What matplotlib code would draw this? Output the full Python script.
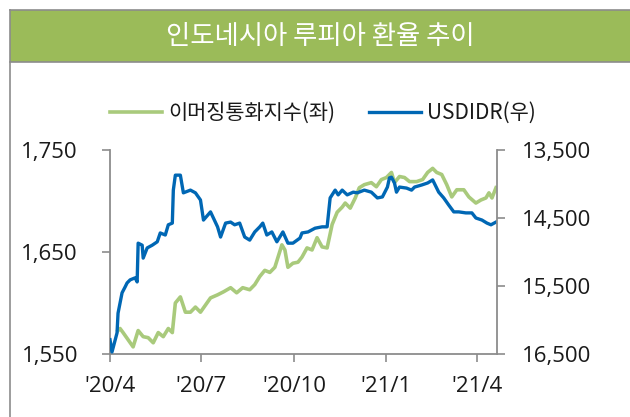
import matplotlib
matplotlib.use("Agg")
import matplotlib.pyplot as plt
from matplotlib.lines import Line2D
from matplotlib.patches import Rectangle
import pandas as pd

plt.rcParams['font.family'] = ['Noto Sans CJK KR', 'DejaVu Sans']

title = "인도네시아 루피아 환율 추이"
em_label = "이머징통화지수(좌)"
idr_label = "USDIDR(우)"

# 이머징통화지수 (left axis)
em_dates = ["2020-04-09", "2020-04-11", "2020-04-14", "2020-04-19", "2020-04-24", "2020-04-29",
            "2020-05-04", "2020-05-09", "2020-05-14", "2020-05-19", "2020-05-24", "2020-05-29",
            "2020-06-02", "2020-06-05", "2020-06-10", "2020-06-15", "2020-06-20", "2020-06-25",
            "2020-06-30", "2020-07-05", "2020-07-10", "2020-07-17", "2020-07-23", "2020-07-30",
            "2020-08-05", "2020-08-11", "2020-08-18", "2020-08-23", "2020-08-28", "2020-09-02",
            "2020-09-07", "2020-09-12", "2020-09-19", "2020-09-22", "2020-09-25", "2020-09-30",
            "2020-10-05", "2020-10-09", "2020-10-14", "2020-10-19", "2020-10-24", "2020-10-29",
            "2020-11-03", "2020-11-08", "2020-11-13", "2020-11-18", "2020-11-21", "2020-11-26",
            "2020-12-01", "2020-12-05", "2020-12-10", "2020-12-17", "2020-12-22", "2020-12-27",
            "2021-01-01", "2021-01-06", "2021-01-09", "2021-01-14", "2021-01-19", "2021-01-24",
            "2021-01-31", "2021-02-06", "2021-02-11", "2021-02-16", "2021-02-20", "2021-02-25",
            "2021-03-02", "2021-03-07", "2021-03-12", "2021-03-19", "2021-03-24", "2021-03-31",
            "2021-04-05", "2021-04-10", "2021-04-13", "2021-04-16", "2021-04-20"]
em_values = [1573, 1575, 1571, 1564, 1557, 1573,
             1567, 1566, 1561, 1571, 1567, 1575,
             1571, 1600, 1606, 1591, 1591, 1596,
             1591, 1598, 1605, 1608, 1611, 1615,
             1610, 1615, 1613, 1618, 1626, 1632,
             1630, 1635, 1657, 1652, 1635, 1639,
             1640, 1645, 1654, 1652, 1664, 1655,
             1654, 1677, 1689, 1694, 1698, 1693,
             1703, 1713, 1716, 1718, 1714, 1721,
             1723, 1728, 1718, 1724, 1723, 1719,
             1719, 1721, 1728, 1732, 1728, 1726,
             1716, 1704, 1711, 1711, 1704, 1698,
             1701, 1703, 1708, 1703, 1713]

# USDIDR (right axis, inverted)
idr_dates = ["2020-04-01", "2020-04-03", "2020-04-08", "2020-04-09", "2020-04-13", "2020-04-16",
             "2020-04-18", "2020-04-21", "2020-04-26", "2020-04-28", "2020-04-29", "2020-05-03",
             "2020-05-04", "2020-05-08", "2020-05-13", "2020-05-18", "2020-05-21", "2020-05-26",
             "2020-05-29", "2020-06-02", "2020-06-03", "2020-06-05", "2020-06-10", "2020-06-13",
             "2020-06-20", "2020-06-25", "2020-06-30", "2020-07-03", "2020-07-10", "2020-07-17",
             "2020-07-20", "2020-07-25", "2020-07-30", "2020-08-03", "2020-08-08", "2020-08-13",
             "2020-08-18", "2020-08-23", "2020-08-28", "2020-08-31", "2020-09-04", "2020-09-09",
             "2020-09-14", "2020-09-20", "2020-09-25", "2020-09-30", "2020-10-07", "2020-10-09",
             "2020-10-15", "2020-10-22", "2020-10-29", "2020-11-03", "2020-11-06", "2020-11-11",
             "2020-11-14", "2020-11-18", "2020-11-23", "2020-11-29", "2020-12-03", "2020-12-10",
             "2020-12-17", "2020-12-23", "2020-12-28", "2021-01-02", "2021-01-04", "2021-01-06",
             "2021-01-09", "2021-01-11", "2021-01-14", "2021-01-21", "2021-01-26", "2021-01-29",
             "2021-02-05", "2021-02-11", "2021-02-16", "2021-02-22", "2021-02-27", "2021-03-04",
             "2021-03-09", "2021-03-14", "2021-03-21", "2021-03-27", "2021-03-31", "2021-04-06",
             "2021-04-11", "2021-04-15", "2021-04-20"]
idr_values = [16290, 16470, 16190, 15900, 15600, 15515,
              15455, 15410, 15380, 15440, 14870, 14900,
              15090, 14940, 14900, 14850, 14720, 14750,
              14600, 14575, 14090, 13870, 13870, 14130,
              14090, 14130, 14235, 14530, 14410, 14630,
              14780, 14575, 14560, 14600, 14575, 14780,
              14825, 14705, 14630, 14575, 14750, 14705,
              14850, 14705, 14870, 14870, 14795, 14720,
              14705, 14650, 14630, 14630, 14205, 14090,
              14160, 14090, 14160, 14120, 14130, 14090,
              14120, 14205, 14190, 14045, 13910, 13900,
              13985, 14120, 14045, 14060, 14090, 14045,
              14015, 13985, 13940, 14120, 14205, 14310,
              14410, 14410, 14425, 14425, 14500, 14530,
              14575, 14600, 14560]

xtick_dates = ["2020-04-01", "2020-07-01", "2020-10-01", "2021-01-01", "2021-04-01"]
xtick_labels = ["'20/4", "'20/7", "'20/10", "'21/1", "'21/4"]
left_ticks = [1550, 1650, 1750]
right_ticks = [13500, 14500, 15500, 16500]

green = "#a9ca7c"
blue = "#0067b4"
banner = "#9bbb59"
gray = "#8c8c8c"
txt = "#1a1a1a"
tick_font = ['Open Sans', 'DejaVu Sans']

fig = plt.figure(figsize=(6.3, 4.17), dpi=100)

# frame + title banner
W, H = 630.0, 417.0
fig.patches.append(Rectangle((10 / W, (H - 62) / H), 620 / W, 52 / H, transform=fig.transFigure,
                             facecolor=banner, edgecolor="none", zorder=0))
fig.lines.append(Line2D([10 / W, 1], [(H - 10) / H] * 2, transform=fig.transFigure, color=gray, lw=1.2))
fig.lines.append(Line2D([10 / W, 1], [(H - 62) / H] * 2, transform=fig.transFigure, color=gray, lw=1.2))
fig.lines.append(Line2D([10 / W] * 2, [0, (H - 10) / H], transform=fig.transFigure, color=gray, lw=1.2))
fig.text(320 / W, (H - 36) / H, title, ha="center", va="center", color="white", fontsize=19,
         fontweight="light")

ax = fig.add_axes([110 / W, 63 / H, 387 / W, 204 / H])
ax2 = ax.twinx()

em_x = pd.to_datetime(em_dates)
idr_x = pd.to_datetime(idr_dates)
l1, = ax.plot(em_x, em_values, color=green, lw=2.6, solid_joinstyle="round")
l2, = ax2.plot(idr_x, idr_values, color=blue, lw=2.4, solid_joinstyle="round")

ax.set_xlim(pd.Timestamp("2020-04-01"), pd.Timestamp("2021-04-21"))
ax.set_ylim(1550, 1750)
ax2.set_ylim(16500, 13500)

ax.set_yticks(left_ticks)
ax.set_yticklabels([f"{v:,}" for v in left_ticks])
ax2.set_yticks(right_ticks)
ax2.set_yticklabels([f"{v:,}" for v in right_ticks])
ax.set_xticks(pd.to_datetime(xtick_dates))
ax.set_xticklabels(xtick_labels)

for a in (ax, ax2):
    for s in a.spines.values():
        s.set_color(gray)
        s.set_linewidth(1.3)
    a.spines["top"].set_visible(False)
    for lab in a.get_xticklabels() + a.get_yticklabels():
        lab.set_family(tick_font)
ax.spines["right"].set_visible(False)
ax2.spines["left"].set_visible(False)
ax2.spines["bottom"].set_visible(False)

ax.tick_params(axis="y", length=6, width=1.2, color=gray, labelsize=16, labelcolor=txt, pad=17)
ax.tick_params(axis="x", length=6, width=1.2, color=gray, labelsize=16, labelcolor=txt, pad=10)
ax2.tick_params(axis="y", length=6, width=1.2, color=gray, labelsize=16, labelcolor=txt, pad=12)

fig.legend([l1, l2], [em_label, idr_label], loc="center", bbox_to_anchor=(323 / W, (H - 113) / H),
           ncol=2, frameon=False, fontsize=15, handlelength=2.5, handletextpad=0.3,
           columnspacing=1.6, labelcolor=txt)

fig.savefig("out.png", dpi=100)
